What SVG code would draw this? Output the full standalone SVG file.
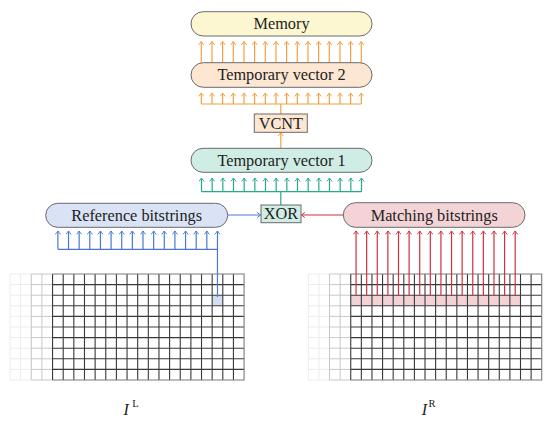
<svg xmlns="http://www.w3.org/2000/svg" width="550" height="424" viewBox="0 0 550 424">
<style>
.box{stroke:#6a6a6a;stroke-width:1}
.lbl{font-family:"Liberation Serif","Times New Roman",serif;font-size:16.3px;fill:#222;text-anchor:middle}
.or{stroke:#f5a040;stroke-width:1.2;fill:none}
.te{stroke:#26a98b;stroke-width:1.2;fill:none}
.bl{stroke:#4a78d4;stroke-width:1.2;fill:none}
.rd{stroke:#d2303c;stroke-width:1.2;fill:none}
.g0{stroke:#ececec;stroke-width:1;fill:none}
.g1{stroke:#c8c8c8;stroke-width:1;fill:none}
.g2{stroke:#3a3a3a;stroke-width:1.1;fill:none}
.g3{stroke:#7a7a7a;stroke-width:1.1;fill:none}
.it{font-family:"Liberation Serif","Times New Roman",serif;fill:#222}
</style>
<defs>
<marker id="ao" viewBox="-4 -3 5 6" refX="0" refY="0" markerWidth="5" markerHeight="6" markerUnits="userSpaceOnUse" orient="auto"><path d="M-3.4,-2.6 Q-1,-0.6 0,0 Q-1,0.6 -3.4,2.6" fill="none" stroke="#f5a040" stroke-width="1"/></marker>
<marker id="at" viewBox="-4 -3 5 6" refX="0" refY="0" markerWidth="5" markerHeight="6" markerUnits="userSpaceOnUse" orient="auto"><path d="M-3.4,-2.6 Q-1,-0.6 0,0 Q-1,0.6 -3.4,2.6" fill="none" stroke="#26a98b" stroke-width="1"/></marker>
<marker id="ab" viewBox="-4 -3 5 6" refX="0" refY="0" markerWidth="5" markerHeight="6" markerUnits="userSpaceOnUse" orient="auto"><path d="M-3.4,-2.6 Q-1,-0.6 0,0 Q-1,0.6 -3.4,2.6" fill="none" stroke="#4a78d4" stroke-width="1"/></marker>
<marker id="ar" viewBox="-4 -3 5 6" refX="0" refY="0" markerWidth="5" markerHeight="6" markerUnits="userSpaceOnUse" orient="auto"><path d="M-3.4,-2.6 Q-1,-0.6 0,0 Q-1,0.6 -3.4,2.6" fill="none" stroke="#d2303c" stroke-width="1"/></marker>
</defs>

<g id="gridL">
<rect x="212.16" y="295.2" width="10.64" height="10.6" fill="#d6dff2"/>
<path class="g0" d="M10,274V380M20.64,274V380M31.28,274V380M10,274H31.28M10,284.6H31.28M10,295.2H31.28M10,305.8H31.28M10,316.4H31.28M10,327H31.28M10,337.6H31.28M10,348.2H31.28M10,358.8H31.28M10,369.4H31.28M10,380H31.28"/>
<path class="g1" d="M31.28,274V380M41.92,274V380M31.28,274H52.56M31.28,284.6H52.56M31.28,295.2H52.56M31.28,305.8H52.56M31.28,316.4H52.56M31.28,327H52.56M31.28,337.6H52.56M31.28,348.2H52.56M31.28,358.8H52.56M31.28,369.4H52.56M31.28,380H52.56"/>
<path class="g2" d="M52.56,274V380M63.2,274V380M73.84,274V380M84.48,274V380M95.12,274V380M105.76,274V380M116.4,274V380M127.04,274V380M137.68,274V380M148.32,274V380M158.96,274V380M169.6,274V380M180.24,274V380M190.88,274V380M201.52,274V380M212.16,274V380M222.8,274V380M233.44,274V380M52.56,284.6H244.08M52.56,295.2H244.08M52.56,305.8H244.08M52.56,316.4H244.08M52.56,327H244.08M52.56,337.6H244.08M52.56,348.2H244.08M52.56,358.8H244.08M52.56,369.4H244.08"/>
<path class="g3" d="M52.56,274H244.08V380H52.56"/>
</g>

<g id="gridR">
<rect x="350.74" y="295.2" width="169.76" height="10.6" fill="#f3d2d6"/>
<path class="g0" d="M308.3,274V380M318.91,274V380M329.52,274V380M308.3,274H329.52M308.3,284.6H329.52M308.3,295.2H329.52M308.3,305.8H329.52M308.3,316.4H329.52M308.3,327H329.52M308.3,337.6H329.52M308.3,348.2H329.52M308.3,358.8H329.52M308.3,369.4H329.52M308.3,380H329.52"/>
<path class="g1" d="M329.52,274V380M340.13,274V380M329.52,274H350.74M329.52,284.6H350.74M329.52,295.2H350.74M329.52,305.8H350.74M329.52,316.4H350.74M329.52,327H350.74M329.52,337.6H350.74M329.52,348.2H350.74M329.52,358.8H350.74M329.52,369.4H350.74M329.52,380H350.74"/>
<path class="g2" d="M350.74,274V380M361.35,274V380M371.96,274V380M382.57,274V380M393.18,274V380M403.79,274V380M414.4,274V380M425.01,274V380M435.62,274V380M446.23,274V380M456.84,274V380M467.45,274V380M478.06,274V380M488.67,274V380M499.28,274V380M509.89,274V380M520.5,274V380M531.11,274V380M350.74,284.6H541.72M350.74,295.2H541.72M350.74,305.8H541.72M350.74,316.4H541.72M350.74,327H541.72M350.74,337.6H541.72M350.74,348.2H541.72M350.74,358.8H541.72M350.74,369.4H541.72"/>
<path class="g3" d="M350.74,274H541.72V380H350.74"/>
</g>

<g id="connectors">
<g class="or" marker-end="url(#ao)">
<path d="M201.3,62.7V41.5"/><path d="M211.97,62.7V41.5"/><path d="M222.63,62.7V41.5"/><path d="M233.3,62.7V41.5"/><path d="M243.97,62.7V41.5"/><path d="M254.63,62.7V41.5"/><path d="M265.3,62.7V41.5"/><path d="M275.97,62.7V41.5"/><path d="M286.63,62.7V41.5"/><path d="M297.3,62.7V41.5"/><path d="M307.97,62.7V41.5"/><path d="M318.63,62.7V41.5"/><path d="M329.3,62.7V41.5"/><path d="M339.97,62.7V41.5"/><path d="M350.63,62.7V41.5"/><path d="M361.3,62.7V41.5"/>
</g>
<path class="or" d="M201.3,104H361.3M280.8,114V104"/>
<g class="or" marker-end="url(#ao)">
<path d="M201.3,104V93"/><path d="M211.97,104V93"/><path d="M222.63,104V93"/><path d="M233.3,104V93"/><path d="M243.97,104V93"/><path d="M254.63,104V93"/><path d="M265.3,104V93"/><path d="M275.97,104V93"/><path d="M286.63,104V93"/><path d="M297.3,104V93"/><path d="M307.97,104V93"/><path d="M318.63,104V93"/><path d="M329.3,104V93"/><path d="M339.97,104V93"/><path d="M350.63,104V93"/><path d="M361.3,104V93"/>
</g>
<path class="or" d="M280.8,148V132.6" marker-end="url(#ao)"/>
<path class="te" d="M201.5,191.7H361.5M280.8,205V191.7"/>
<g class="te" marker-end="url(#at)">
<path d="M201.5,191.7V178"/><path d="M212.17,191.7V178"/><path d="M222.83,191.7V178"/><path d="M233.5,191.7V178"/><path d="M244.17,191.7V178"/><path d="M254.83,191.7V178"/><path d="M265.5,191.7V178"/><path d="M276.17,191.7V178"/><path d="M286.83,191.7V178"/><path d="M297.5,191.7V178"/><path d="M308.17,191.7V178"/><path d="M318.83,191.7V178"/><path d="M329.5,191.7V178"/><path d="M340.17,191.7V178"/><path d="M350.83,191.7V178"/><path d="M361.5,191.7V178"/>
</g>
<path class="bl" d="M228,215H260.6" marker-end="url(#ab)"/>
<path class="rd" d="M343,215H301.4" marker-end="url(#ar)"/>
<path class="bl" d="M57.88,249.3H217.48M217.48,297V249.3"/>
<g class="bl" marker-end="url(#ab)">
<path d="M57.88,249.3V231"/><path d="M68.52,249.3V231"/><path d="M79.16,249.3V231"/><path d="M89.8,249.3V231"/><path d="M100.44,249.3V231"/><path d="M111.08,249.3V231"/><path d="M121.72,249.3V231"/><path d="M132.36,249.3V231"/><path d="M143,249.3V231"/><path d="M153.64,249.3V231"/><path d="M164.28,249.3V231"/><path d="M174.92,249.3V231"/><path d="M185.56,249.3V231"/><path d="M196.2,249.3V231"/><path d="M206.84,249.3V231"/><path d="M217.48,249.3V231"/>
</g>
<g class="rd" marker-end="url(#ar)">
<path d="M356.05,295.5V231"/><path d="M366.66,295.5V231"/><path d="M377.27,295.5V231"/><path d="M387.88,295.5V231"/><path d="M398.49,295.5V231"/><path d="M409.1,295.5V231"/><path d="M419.71,295.5V231"/><path d="M430.32,295.5V231"/><path d="M440.93,295.5V231"/><path d="M451.54,295.5V231"/><path d="M462.15,295.5V231"/><path d="M472.76,295.5V231"/><path d="M483.37,295.5V231"/><path d="M493.98,295.5V231"/><path d="M504.59,295.5V231"/><path d="M515.2,295.5V231"/>
</g>
</g>

<g id="memory">
<rect class="box" x="191" y="11.7" width="181" height="24.3" rx="12.15" fill="#fcf7d0"/>
<text class="lbl" x="281.5" y="29">Memory</text>
</g>
<g id="temp2">
<rect class="box" x="191" y="62.7" width="181" height="24.6" rx="12.3" fill="#fde6d2"/>
<text class="lbl" x="281.5" y="80.3">Temporary vector 2</text>
</g>
<g id="vcnt">
<rect class="box" x="254.3" y="114" width="53" height="18.3" fill="#fde6d2"/>
<text class="lbl" x="280.8" y="128.7">VCNT</text>
</g>
<g id="temp1">
<rect class="box" x="191" y="148.3" width="181" height="24" rx="12" fill="#cfede4"/>
<text class="lbl" x="281.5" y="165.8">Temporary vector 1</text>
</g>
<g id="xor">
<rect class="box" x="261" y="205" width="40" height="17.7" fill="#cfede4"/>
<text class="lbl" x="281" y="219.4">XOR</text>
</g>
<g id="ref">
<rect class="box" x="45.7" y="203.3" width="182" height="24" rx="12" fill="#d9e3f5"/>
<text class="lbl" x="136.7" y="220.8">Reference bitstrings</text>
</g>
<g id="match">
<rect class="box" x="343.3" y="202.7" width="181.7" height="24.6" rx="12.3" fill="#f4d3d7"/>
<text class="lbl" x="434.2" y="220.5">Matching bitstrings</text>
</g>

<g id="labelL">
<text class="it" x="123.5" y="415" font-size="16" font-style="italic">I</text>
<text class="it" x="132.3" y="406.5" font-size="10.5">L</text>
</g>
<g id="labelR">
<text class="it" x="421.8" y="415" font-size="16" font-style="italic">I</text>
<text class="it" x="428.6" y="406.5" font-size="10.5">R</text>
</g>
</svg>
